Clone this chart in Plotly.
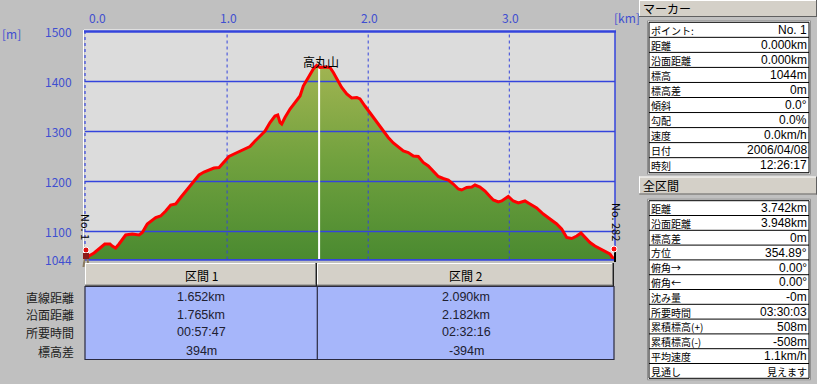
import plotly.graph_objects as go

# ---------------- data ----------------
dist_km = [0.000, 0.021, 0.057, 0.092, 0.133, 0.170, 0.186, 0.210, 0.234, 0.281,
           0.328, 0.376, 0.399, 0.434, 0.459, 0.494, 0.529, 0.565, 0.600, 0.636,
           0.671, 0.707, 0.742, 0.777, 0.801, 0.836, 0.872, 0.907, 0.943, 0.978,
           1.013, 1.049, 1.091, 1.127, 1.162, 1.198, 1.233, 1.269, 1.304, 1.339,
           1.359, 1.375, 1.387, 1.410, 1.446, 1.481, 1.517, 1.540, 1.576, 1.611,
           1.635, 1.658, 1.694, 1.729, 1.753, 1.788, 1.812, 1.848, 1.883, 1.919,
           1.942, 1.977, 2.013, 2.048, 2.072, 2.107, 2.142, 2.178, 2.213, 2.249,
           2.284, 2.320, 2.355, 2.390, 2.426, 2.461, 2.497, 2.532, 2.568, 2.603,
           2.639, 2.662, 2.698, 2.734, 2.757, 2.792, 2.828, 2.863, 2.887, 2.922,
           2.946, 2.993, 3.028, 3.064, 3.111, 3.147, 3.194, 3.241, 3.288, 3.336,
           3.371, 3.407, 3.442, 3.478, 3.508, 3.536, 3.572, 3.607, 3.642, 3.678,
           3.713, 3.742]
elev_m = [1044, 1051, 1057, 1065, 1075, 1075, 1071, 1067, 1075, 1093,
          1095, 1093, 1098, 1115, 1121, 1128, 1131, 1141, 1153, 1155,
          1168, 1181, 1193, 1205, 1213, 1219, 1223, 1227, 1228, 1238,
          1250, 1255, 1261, 1265, 1270, 1281, 1291, 1301, 1318, 1331,
          1333, 1318, 1315, 1328, 1345, 1358, 1371, 1391, 1408, 1425,
          1432, 1428, 1429, 1428, 1418, 1401, 1388, 1375, 1367, 1368,
          1365, 1351, 1337, 1325, 1315, 1301, 1288, 1277, 1270, 1261,
          1258, 1251, 1250, 1238, 1231, 1221, 1210, 1206, 1203, 1195,
          1185, 1183, 1188, 1189, 1193, 1189, 1181, 1170, 1163, 1159,
          1161, 1170, 1161, 1157, 1161, 1155, 1147, 1135, 1125, 1115,
          1105, 1088, 1086, 1091, 1097, 1088, 1078, 1071, 1066, 1061,
          1055, 1044]

x_tick_vals = [0, 1, 2, 3]
x_tick_text = ["0.0", "1.0", "2.0", "3.0"]
y_tick_vals = [1044, 1100, 1200, 1300, 1400, 1500]
y_grid_vals = [1100, 1200, 1300, 1400]
x_grid_vals = [1, 2, 3]
total_km = 3.742
peak_name = "高丸山"
peak_km = 1.652
peak_elev = 1432
start_label = "No. 1"
end_label = "No. 282"

section_names = ["区間 1", "区間 2"]
row_labels = ["直線距離", "沿面距離", "所要時間", "標高差"]
sec1_values = ["1.652km", "1.765km", "00:57:47", "394m"]
sec2_values = ["2.090km", "2.182km", "02:32:16", "-394m"]

marker_title = "マーカー"
marker_labels = ["ポイント:", "距離", "沿面距離", "標高", "標高差", "傾斜", "勾配", "速度", "日付", "時刻"]
marker_values = ["No. 1", "0.000km", "0.000km", "1044m", "0m", "0.0°", "0.0%", "0.0km/h", "2006/04/08", "12:26:17"]
total_title = "全区間"
total_labels = ["距離", "沿面距離", "標高差", "方位", "俯角→", "俯角←", "沈み量", "所要時間",
                "累積標高(+)", "累積標高(-)", "平均速度", "見通し"]
total_values = ["3.742km", "3.948km", "0m", "354.89°", "0.00°", "0.00°", "-0m", "03:30:03",
                "508m", "-508m", "1.1km/h", "見えます"]

# ---------------- helpers ----------------
W, H = 817, 384
FONT = "Noto Sans CJK JP"
LATIN = "Liberation Sans"
BLUE = "#3444dc"
TXT_BLUE = "#3f4fd0"
FACE = "#d4d0c8"


def X(p):
    return p / W


def Y(p):
    return 1 - p / H


def is_cjk(s):
    return any(ord(c) > 0x2FFF for c in s)


shapes = []
annots = []


def line(x0, y0, x1, y1, color, width=1, dash="solid"):
    shapes.append(dict(type="line", xref="paper", yref="paper", x0=X(x0), y0=Y(y0), x1=X(x1), y1=Y(y1),
                       line=dict(color=color, width=width, dash=dash), layer="above"))


def rect(x0, y0, x1, y1, fill, lc=None, lw=0):
    shapes.append(dict(type="rect", xref="paper", yref="paper", x0=X(x0), y0=Y(y0), x1=X(x1), y1=Y(y1),
                       fillcolor=fill, line=dict(color=lc or fill, width=lw), layer="above"))


def circle(cx, cy, r, fill, lc=None, lw=0):
    shapes.append(dict(type="circle", xref="paper", yref="paper", x0=X(cx - r), y0=Y(cy + r),
                       x1=X(cx + r), y1=Y(cy - r), fillcolor=fill,
                       line=dict(color=lc or fill, width=lw), layer="above"))


def text(x, y, s, anchor="center", size=12, color="#1a1a1a", angle=0, family=FONT):
    annots.append(dict(xref="paper", yref="paper", x=X(x), y=Y(y), text=s, showarrow=False,
                       xanchor=anchor, yanchor="middle", textangle=angle, borderpad=0,
                       font=dict(size=size, color=color, family=family)))


def bevel(x0, y0, x1, y1):
    rect(x0, y0, x1, y1, FACE)
    line(x0, y0 + 0.5, x1, y0 + 0.5, "#ffffff", 1)
    line(x0 + 0.5, y0, x0 + 0.5, y1, "#ffffff", 1)
    line(x0, y1 - 1.5, x1, y1 - 1.5, "#808080", 1)
    line(x1 - 1.5, y0, x1 - 1.5, y1, "#808080", 1)
    line(x0, y1 - 0.5, x1, y1 - 0.5, "#202020", 1)
    line(x1 - 0.5, y0, x1 - 0.5, y1, "#202020", 1)


# ---------------- figure ----------------
fig = go.Figure()
x_min = -1 / 141.1
x_max = (615 - 86) / 141.1

# filled terrain
fig.add_trace(go.Scatter(
    x=dist_km, y=elev_m, mode="lines", line=dict(width=0, color="rgba(0,0,0,0)"),
    fill="tozeroy",
    fillgradient=dict(type="vertical", start=1044, stop=1440,
                      colorscale=[[0, "#4a8a30"], [0.5, "#71a13e"], [1, "#a3b552"]]),
    hoverinfo="skip"))

# grid lines drawn over the fill
gx, gy = [], []
for v in y_grid_vals:
    gx += [x_min, x_max, None]
    gy += [v, v, None]
fig.add_trace(go.Scatter(x=gx, y=gy, mode="lines", line=dict(color=BLUE, width=1.6), hoverinfo="skip"))
vx, vy = [], []
for v in x_grid_vals:
    vx += [v, v, None]
    vy += [1044, 1500, None]
fig.add_trace(go.Scatter(x=vx, y=vy, mode="lines", line=dict(color=BLUE, width=1, dash="dot"), hoverinfo="skip"))

# white marker line at the summit
fig.add_trace(go.Scatter(x=[peak_km, peak_km], y=[1044, peak_elev - 2], mode="lines",
                         line=dict(color="#ffffff", width=2), hoverinfo="skip"))

# red profile
fig.add_trace(go.Scatter(x=dist_km, y=elev_m, mode="lines", line=dict(color="#ff0000", width=3),
                         hoverinfo="skip"))

# plot frame
line(84, 30, 615, 30, "#ffffff", 1)
line(84, 31.5, 616, 31.5, BLUE, 2.5)
line(83.5, 30, 83.5, 262, "#ffffff", 1)
line(85, 31, 85, 260, BLUE, 1.2, "dot")
line(615, 31, 615, 260, BLUE, 1.5)
line(84, 259.8, 616, 259.8, BLUE, 1.8)

# axis tick labels
for v in y_tick_vals:
    annots.append(dict(xref="paper", yref="y", x=X(74), y=v, text=str(v), showarrow=False,
                       xanchor="right", yanchor="middle",
                       font=dict(size=12, color=TXT_BLUE, family=FONT)))
for v, t in zip(x_tick_vals, x_tick_text):
    annots.append(dict(xref="x", yref="paper", x=v, y=Y(17), text=t, showarrow=False,
                       xanchor="center", yanchor="middle", xshift=11 if v == 0 else 1,
                       font=dict(size=12, color=TXT_BLUE, family=FONT)))
text(11, 34, "[m]", size=12, color=TXT_BLUE)
text(627, 17, "[km]", size=12, color=TXT_BLUE)

# summit label
annots.append(dict(xref="x", yref="y", x=peak_km, y=peak_elev, text=peak_name, showarrow=False,
                   xanchor="center", yanchor="middle", xshift=2, yshift=4,
                   font=dict(size=12, color="#000000", family=FONT)))

# start / end point labels (vertical)
text(86, 227, start_label, size=11, color="#000000", angle=90)
text(617, 222, end_label, size=11, color="#000000", angle=90)

# start hiker icon (simplified)
circle(86, 250, 3, "#e01010", "#ffffff", 1)
rect(83, 253, 89, 259, "#8a1a1a")
line(84.5, 259, 83.5, 267, "#8a7a60", 2)
line(87.5, 259, 88.5, 267, "#8a7a60", 2)
# end pin icon
line(615, 251, 615, 262, "#000000", 2)
circle(614, 249, 3, "#ff1010", "#ffffff", 1)

# ---------------- section table ----------------
bevel(85, 263, 317, 286.5)
bevel(317, 263, 614, 286.5)
text(201, 275, section_names[0], size=12, color="#000000")
text(466, 275, section_names[1], size=12, color="#000000")
rect(85, 286.5, 614, 359.5, "#a6b6fa", "#2a2a40", 1.2)
line(317.3, 286.5, 317.3, 359.5, "#2a2a40", 1.2)
row_y = [297, 314.5, 332, 351]
for ry, lab, v1, v2 in zip(row_y, row_labels, sec1_values, sec2_values):
    text(75, ry, lab, anchor="right", size=12, color="#202020")
    text(201, ry, v1, size=12.5, color="#202030", family=LATIN)
    text(466, ry, v2, size=12.5, color="#202030", family=LATIN)


# ---------------- right panel ----------------
def side_header(y0, y1, title):
    rect(639, y0, 817, y1, FACE)
    line(639, y0 + 0.5, 817, y0 + 0.5, "#ffffff", 1)
    line(639.5, y0, 639.5, y1, "#ffffff", 1)
    line(639, y1 - 0.5, 817, y1 - 0.5, "#606060", 1)
    line(816.5, y0, 816.5, y1, "#606060", 1)
    text(642, (y0 + y1) / 2, title, anchor="left", size=12, color="#000000")


def side_table(y_top, row_h, labels, values):
    n = len(labels)
    y_bot = y_top + n * row_h
    rect(647.5, y_top - 1.5, 810.5, y_bot + 1.5, "#ffffff", "#909090", 1)
    rect(649, y_top, 809, y_bot, "#ffffff", "#000000", 1)
    for i in range(1, n):
        line(649, y_top + i * row_h, 809, y_top + i * row_h, "#000000", 1)
    for i, (lab, val) in enumerate(zip(labels, values)):
        cy = y_top + (i + 0.5) * row_h + 0.3
        text(650, cy, lab, anchor="left", size=10, color="#000000")
        if is_cjk(val):
            text(808, cy, val, anchor="right", size=10, color="#000000")
        else:
            text(808, cy, val, anchor="right", size=12, color="#000000", family=LATIN)


side_header(0, 17, marker_title)
side_table(22.3, 15.04, marker_labels, marker_values)
side_header(176.5, 194.5, total_title)
side_table(200.7, 14.8, total_labels, total_values)

fig.update_layout(
    width=W, height=H, margin=dict(l=0, r=0, t=0, b=0), autosize=False,
    paper_bgcolor="#c0c0c0", plot_bgcolor="#dcdcdc", showlegend=False,
    xaxis=dict(domain=[X(85), X(615)], range=[x_min, x_max], showgrid=False, zeroline=False,
               showticklabels=False, showline=False, fixedrange=True),
    yaxis=dict(domain=[Y(259.5), Y(31.5)], range=[1044, 1500], showgrid=False, zeroline=False,
               showticklabels=False, showline=False, fixedrange=True),
    shapes=shapes, annotations=annots,
    font=dict(family=FONT, size=12),
)

fig.write_html("out.html")
